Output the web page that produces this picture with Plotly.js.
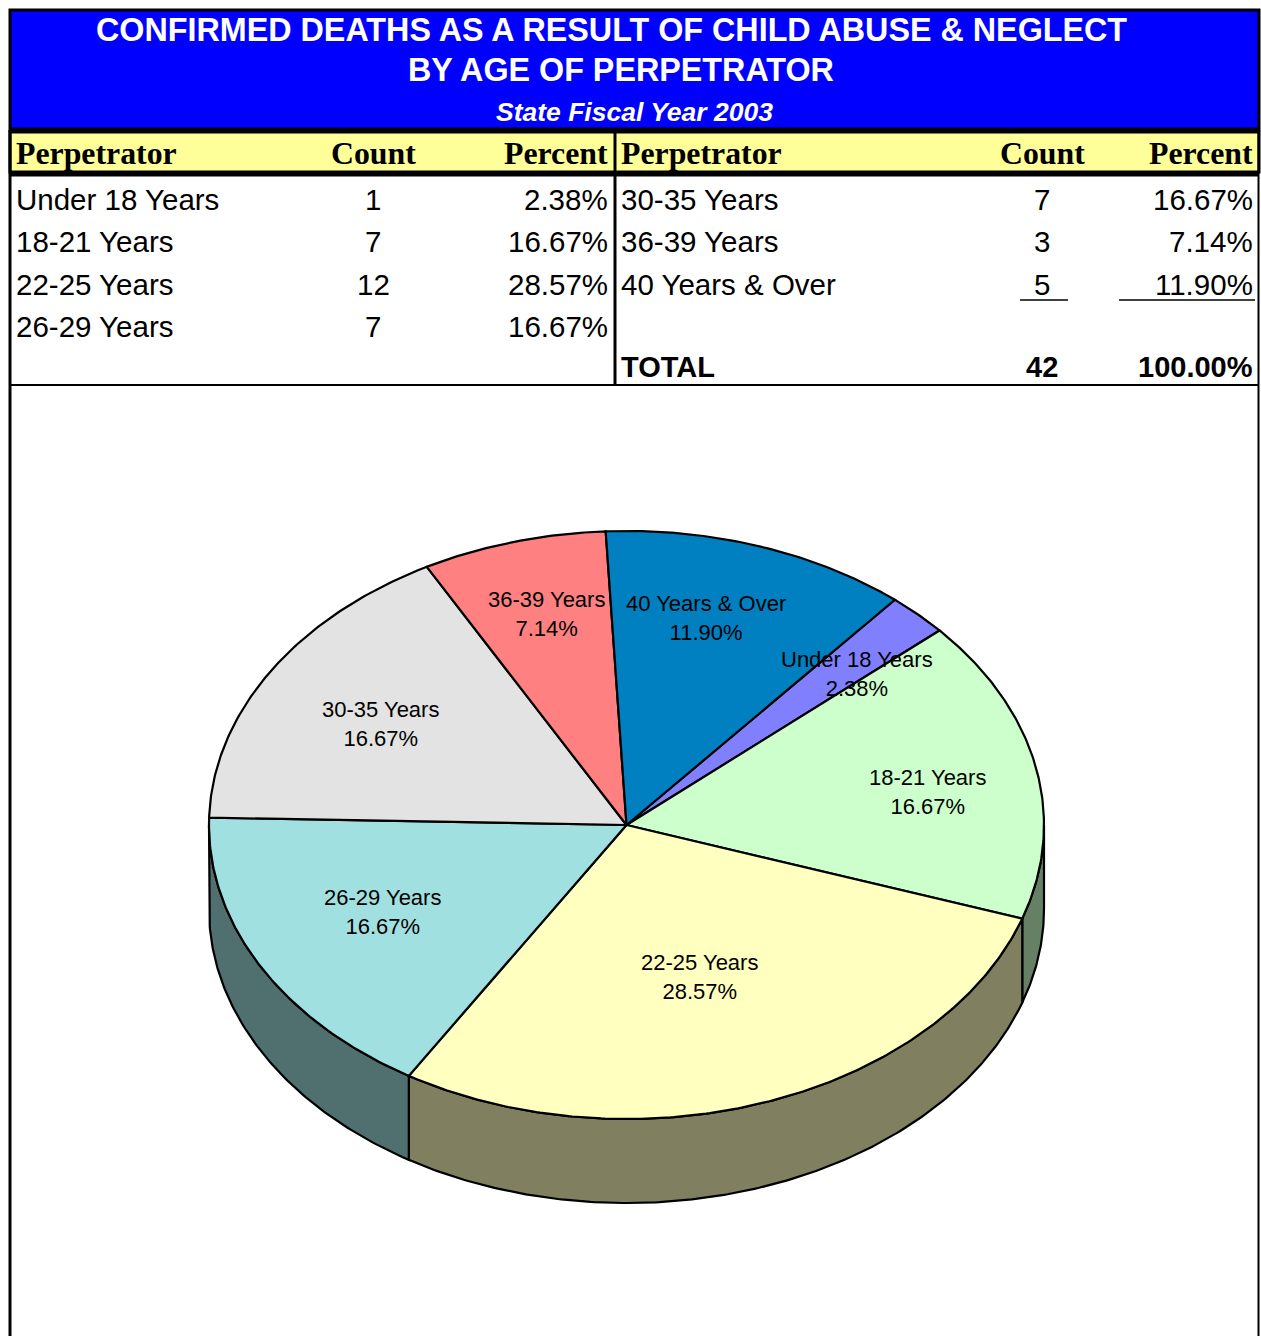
<!DOCTYPE html>
<html>
<head>
<meta charset="utf-8">
<script src="https://cdn.plot.ly/plotly-3.0.1.min.js"></script>
<style>html,body{margin:0;padding:0;background:#fff;}#chart{width:1261px;height:1336px;}</style>
</head>
<body>
<div id="chart"></div>
<script>
// ---------- DATA ----------
const categories = ['Under 18 Years', '18-21 Years', '22-25 Years', '26-29 Years', '30-35 Years', '36-39 Years', '40 Years & Over'];
const counts = [1, 7, 12, 7, 7, 3, 5];
const titleLines = ['CONFIRMED DEATHS AS A RESULT OF CHILD ABUSE & NEGLECT', 'BY AGE OF PERPETRATOR'];
const subtitle = 'State Fiscal Year 2003';
const headers = ['Perpetrator', 'Count', 'Percent'];
const totalLabel = 'TOTAL';

// ---------- STYLE ----------
const topColors = ['#8080FF', '#CCFFCC', '#FFFFC0', '#A0E0E0', '#E3E3E3', '#FF8080', '#0080C0'];
const labelRadius = [0.754, 0.729, 0.546, 0.654, 0.683, 0.743, 0.729];
const labelAngleShift = [2.7, 2.6, 1.2, 1.7, -1.2, 0.7, -3.5];
const SANS = 'Arial, "Liberation Sans", sans-serif';
const SERIF = '"Times New Roman", "Liberation Serif", serif';

const total = counts.reduce((a, b) => a + b, 0);
const pct = c => (c / total * 100).toFixed(2) + '%';

// pie geometry (pixels, drawn through the axes)
const cx = 626.5, cy = 825, rx = 417.5, ry = 294, depth = 84, startDeg = 40;
function pt(deg, dy) {
  const r = deg * Math.PI / 180;
  return [cx + rx * Math.sin(r), cy - ry * Math.cos(r) + (dy || 0)];
}
function darken(hex, f) {
  const n = parseInt(hex.slice(1), 16);
  const r = Math.round(((n >> 16) & 255) * f), g = Math.round(((n >> 8) & 255) * f), b = Math.round((n & 255) * f);
  return 'rgb(' + r + ',' + g + ',' + b + ')';
}

const traces = [], sideTraces = [], annotations = [];
let acc = startDeg;
const slices = counts.map((c, i) => {
  const a0 = acc, a1 = acc + c / total * 360;
  acc = a1;
  return {i, a0, a1};
});

slices.forEach(s => {
  // side face (front half only)
  const lo = Math.max(s.a0, 90), hi = Math.min(s.a1, 270);
  if (lo < hi) {
    const xs = [], ys = [];
    const n = Math.max(4, Math.ceil((hi - lo) * 2));
    for (let k = 0; k <= n; k++) { const p = pt(lo + (hi - lo) * k / n); xs.push(p[0]); ys.push(p[1]); }
    for (let k = n; k >= 0; k--) { const p = pt(lo + (hi - lo) * k / n, depth); xs.push(p[0]); ys.push(p[1]); }
    xs.push(xs[0]); ys.push(ys[0]);
    sideTraces.push({type: 'scatter', mode: 'lines', x: xs, y: ys, fill: 'toself',
      fillcolor: darken(topColors[s.i], 0.5), line: {color: '#000', width: 2.2}, hoverinfo: 'skip', showlegend: false});
  }
  // top face
  const xs = [cx], ys = [cy];
  const n = Math.max(4, Math.ceil((s.a1 - s.a0) * 2));
  for (let k = 0; k <= n; k++) { const p = pt(s.a0 + (s.a1 - s.a0) * k / n); xs.push(p[0]); ys.push(p[1]); }
  xs.push(cx); ys.push(cy);
  traces.push({type: 'scatter', mode: 'lines', x: xs, y: ys, fill: 'toself',
    fillcolor: topColors[s.i], line: {color: '#000', width: 2.2}, hoverinfo: 'skip', showlegend: false});
  // label
  const mid = (s.a0 + s.a1) / 2 + labelAngleShift[s.i], f = labelRadius[s.i], r = mid * Math.PI / 180;
  annotations.push({x: cx + rx * f * Math.sin(r), y: cy - ry * f * Math.cos(r), xref: 'x', yref: 'y',
    text: categories[s.i] + '<br>' + pct(counts[s.i]), showarrow: false, align: 'center',
    xanchor: 'center', yanchor: 'middle', font: {family: SANS, size: 22, color: '#000'}});
});

// ---------- TABLE TEXT ----------
const titleY = [30, 70];
const titleX = [611.5, 620.5];
titleLines.forEach((t, k) => annotations.push({x: titleX[k], y: titleY[k], xref: 'x', yref: 'y', text: '<b>' + t + '</b>',
  showarrow: false, xanchor: 'center', yanchor: 'middle', font: {family: SANS, size: 32.3, color: '#fff'}}));
annotations.push({x: 634.5, y: 112, xref: 'x', yref: 'y', text: '<b><i>' + subtitle + '</i></b>', showarrow: false,
  xanchor: 'center', yanchor: 'middle', font: {family: SANS, size: 26.5, color: '#fff'}});

const cols = [
  {label: 14, count: 373, pct: 610},
  {label: 619, count: 1042, pct: 1255}
];
const headerY = 153;
cols.forEach(c => {
  annotations.push({x: c.label, y: headerY, xref: 'x', yref: 'y', text: '<b>' + headers[0] + '</b>', showarrow: false,
    xanchor: 'left', yanchor: 'middle', font: {family: SERIF, size: 31.8, color: '#000'}});
  annotations.push({x: c.count, y: headerY, xref: 'x', yref: 'y', text: '<b>' + headers[1] + '</b>', showarrow: false,
    xanchor: 'center', yanchor: 'middle', font: {family: SERIF, size: 31.8, color: '#000'}});
  annotations.push({x: c.pct, y: headerY, xref: 'x', yref: 'y', text: '<b>' + headers[2] + '</b>', showarrow: false,
    xanchor: 'right', yanchor: 'middle', font: {family: SERIF, size: 31.8, color: '#000'}});
});

const rowY = [199, 241.5, 284, 326.5];
const leftN = 4;
const dataFont = {family: SANS, size: 29.5, color: '#000'};
categories.forEach((cat, i) => {
  const c = i < leftN ? cols[0] : cols[1];
  const y = rowY[i < leftN ? i : i - leftN];
  annotations.push({x: c.label, y: y, xref: 'x', yref: 'y', text: cat, showarrow: false, xanchor: 'left', yanchor: 'middle', font: dataFont});
  annotations.push({x: c.count, y: y, xref: 'x', yref: 'y', text: String(counts[i]), showarrow: false, xanchor: 'center', yanchor: 'middle', font: dataFont});
  annotations.push({x: c.pct, y: y, xref: 'x', yref: 'y', text: pct(counts[i]), showarrow: false, xanchor: 'right', yanchor: 'middle', font: dataFont});
});
const totY = 367;
const bf = {family: SANS, size: 29, color: '#000'};
annotations.push({x: cols[1].label, y: totY, xref: 'x', yref: 'y', text: '<b>' + totalLabel + '</b>', showarrow: false, xanchor: 'left', yanchor: 'middle', font: bf});
annotations.push({x: cols[1].count, y: totY, xref: 'x', yref: 'y', text: '<b>' + total + '</b>', showarrow: false, xanchor: 'center', yanchor: 'middle', font: bf});
annotations.push({x: cols[1].pct, y: totY, xref: 'x', yref: 'y', text: '<b>' + (100).toFixed(2) + '%</b>', showarrow: false, xanchor: 'right', yanchor: 'middle', font: bf});

// ---------- SHAPES ----------
const L = {color: '#000', width: 3};
const shapes = [
  {type: 'rect', xref: 'x', yref: 'y', x0: 10, x1: 1259, y0: 10, y1: 130, fillcolor: '#0000FF', line: {color: '#000', width: 3}, layer: 'below'},
  {type: 'rect', xref: 'x', yref: 'y', x0: 10, x1: 1259, y0: 132, y1: 172, fillcolor: '#FFFF99', line: {color: '#000', width: 3}, layer: 'below'},
  {type: 'line', xref: 'x', yref: 'y', x0: 10, x1: 1259, y0: 174, y1: 174, line: {color: '#000', width: 5}},
  {type: 'line', xref: 'x', yref: 'y', x0: 10, x1: 1259, y0: 130, y1: 130, line: {color: '#000', width: 5}},
  {type: 'line', xref: 'x', yref: 'y', x0: 615, x1: 615, y0: 132, y1: 385, line: L},
  {type: 'line', xref: 'x', yref: 'y', x0: 10, x1: 10, y0: 130, y1: 1336, line: L},
  {type: 'line', xref: 'x', yref: 'y', x0: 1258.5, x1: 1258.5, y0: 130, y1: 1336, line: {color: '#000', width: 2}},
  {type: 'line', xref: 'x', yref: 'y', x0: 10, x1: 1259, y0: 385, y1: 385, line: {color: '#000', width: 2}},
  {type: 'line', xref: 'x', yref: 'y', x0: 1020, x1: 1068, y0: 300, y1: 300, line: {color: '#000', width: 1.5}},
  {type: 'line', xref: 'x', yref: 'y', x0: 1119, x1: 1255, y0: 300, y1: 300, line: {color: '#000', width: 1.5}}
];

const layout = {
  width: 1261, height: 1336,
  margin: {l: 0, r: 0, t: 0, b: 0, pad: 0},
  paper_bgcolor: '#fff', plot_bgcolor: '#fff',
  showlegend: false,
  xaxis: {range: [0, 1261], visible: false, fixedrange: true},
  yaxis: {range: [1336, 0], visible: false, fixedrange: true},
  shapes: shapes,
  annotations: annotations
};

Plotly.newPlot('chart', sideTraces.concat(traces), layout, {displayModeBar: false, staticPlot: true});
</script>
</body>
</html>
